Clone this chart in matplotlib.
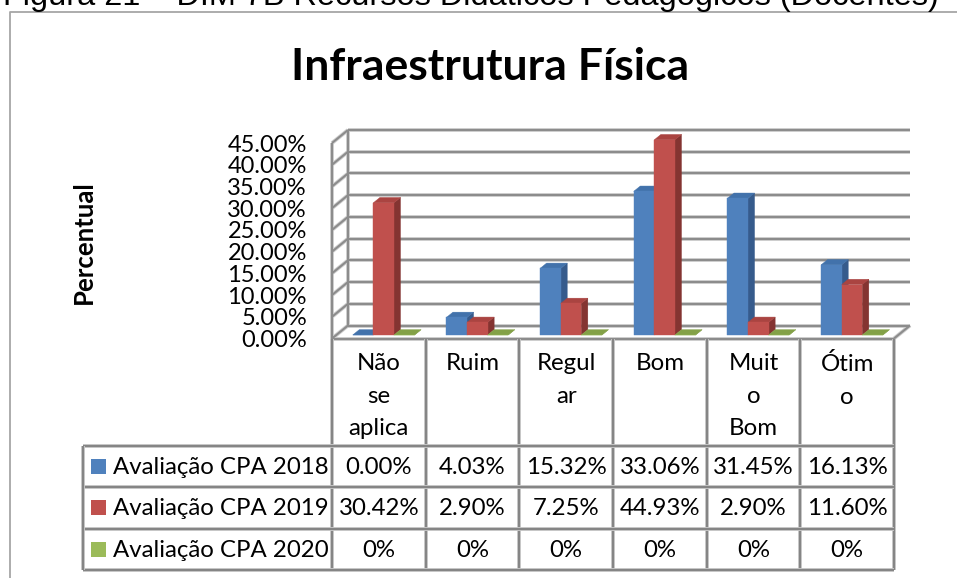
import matplotlib
matplotlib.use('Agg')
import matplotlib.pyplot as plt
from matplotlib.patches import Polygon, Rectangle
from matplotlib.lines import Line2D
import matplotlib.ticker as mticker

# Dados do gráfico
categorias = ['Não\nse\naplica', 'Ruim', 'Regul\nar', 'Bom', 'Muit\no\nBom', 'Ótim\no']
series = ['Avaliação CPA 2018', 'Avaliação CPA 2019', 'Avaliação CPA 2020']
cpa_2018 = [0.00, 4.03, 15.32, 33.06, 31.45, 16.13]
cpa_2019 = [30.42, 2.90, 7.25, 44.93, 2.90, 11.60]
cpa_2020 = [0, 0, 0, 0, 0, 0]
ticks_y = [0, 5, 10, 15, 20, 25, 30, 35, 40, 45]

valores = [cpa_2018, cpa_2019, cpa_2020]
rotulos = [[f'{v:.2f}%' for v in cpa_2018],
           [f'{v:.2f}%' for v in cpa_2019],
           [f'{v:.0f}%' for v in cpa_2020]]

# cores (frente, topo, lateral)
cores = [('#4f81bd', '#4272ab', '#365b8c'),
         ('#c0504d', '#aa4441', '#843431'),
         ('#9bbb59', '#83a147', '#6a8736')]

W, H = 957, 578
plt.rcParams['font.family'] = ['Lato', 'DejaVu Sans']
fig = plt.figure(figsize=(W / 100, H / 100), dpi=100)

# moldura do gráfico
fig.add_artist(Line2D([10 / W, 10 / W, 1], [0, 1 - 12 / H, 1 - 12 / H],
                      color='#a6a6a6', lw=1.3, transform=fig.transFigure))

# legenda da figura (cortada no topo, como no original)
fig.text(3 / W, 1 - 5 / H, 'Figura 21 – DIM 7B Recursos Didáticos Pedagógicos (Docentes)',
         family='Liberation Sans', fontsize=23.4, va='baseline', ha='left')

fig.text(490 / W, 1 - 80 / H, 'Infraestrutura Física', ha='center', va='baseline',
         fontsize=32, weight='bold')
fig.text(84 / W, 1 - 242 / H, 'Percentual', rotation=90, ha='center', va='center',
         fontsize=18.5, weight='bold')

# eixo principal (plano frontal)
x0px, x1px, y0px, y1px = 332, 894, 338.5, 143
ax = fig.add_axes([x0px / W, 1 - y0px / H, (x1px - x0px) / W, (y0px - y1px) / H])
ax.set_xlim(0, 6)
ax.set_ylim(0, 45)
for s in ax.spines.values():
    s.set_visible(False)
ax.set_xticks([])
ax.set_yticks(ticks_y)
ax.yaxis.set_major_formatter(mticker.FuncFormatter(lambda v, p: f'{v:.2f}%'))
ax.tick_params(axis='y', length=0, pad=18, labelsize=17)
ax.patch.set_visible(False)

# profundidade 3D em unidades de dados
DX = 16 / ((x1px - x0px) / 6)
DY = 13 / ((y0px - y1px) / 45)


def linha(xs, ys):
    ax.plot(xs, ys, color='#cfcfcf', lw=2.8, clip_on=False, solid_capstyle='butt', zorder=1)
    ax.plot(xs, ys, color='#8c8c8c', lw=1.5, clip_on=False, solid_capstyle='butt', zorder=1.1)


for v in ticks_y:
    linha([DX, 6 + DX], [v + DY, v + DY])
    linha([0, DX], [v, v + DY])
linha([0, 0], [0, 45])
linha([DX, DX], [DY, 45 + DY])
linha([0, 6], [0, 0])
linha([6, 6 + DX], [0, DY])

# barras 3D
f0, f1 = 0.27, 0.68
larg = 0.22
for i in range(len(categorias)):
    for j, vals in enumerate(valores):
        v = vals[i]
        xa = i + 0.175 + larg * j
        xb = xa + larg
        cf, ct, cl = cores[j]
        lado = [(xb + f0 * DX, f0 * DY), (xb + f1 * DX, f1 * DY),
                (xb + f1 * DX, v + f1 * DY), (xb + f0 * DX, v + f0 * DY)]
        topo = [(xa + f0 * DX, v + f0 * DY), (xb + f0 * DX, v + f0 * DY),
                (xb + f1 * DX, v + f1 * DY), (xa + f1 * DX, v + f1 * DY)]
        frente = [(xa + f0 * DX, f0 * DY), (xb + f0 * DX, f0 * DY),
                  (xb + f0 * DX, v + f0 * DY), (xa + f0 * DX, v + f0 * DY)]
        for pts, c in [(lado, cl), (topo, ct), (frente, cf)]:
            ax.add_patch(Polygon(pts, closed=True, facecolor=c, edgecolor=c, lw=0.3,
                                 clip_on=False, zorder=3))

# tabela de dados
tab_l, tab_b = 83, 570
u = (x1px - x0px) / 6          # px por categoria
row = 41.5
head = (tab_b - y0px - 3 * row) / row
tab = fig.add_axes([tab_l / W, 1 - tab_b / H, (x1px - tab_l) / W, (tab_b - y0px) / H])
xl = (tab_l - x0px) / u
tab.set_xlim(xl, 6)
tab.set_ylim(head + 3, 0)
tab.axis('off')


def tlinha(xs, ys):
    tab.plot(xs, ys, color='#c8c8c8', lw=2.8, clip_on=False, solid_capstyle='butt')
    tab.plot(xs, ys, color='#858585', lw=1.5, clip_on=False, solid_capstyle='butt')


for k in range(7):
    tlinha([k, k], [0, head + 3])
for r in range(4):
    tlinha([xl, 6], [head + r, head + r])
tlinha([xl, xl], [head, head + 3])

fs = 17.3
for i, c in enumerate(categorias):
    tab.text(i + 0.5, 0.36, c, ha='center', va='top', fontsize=fs, linespacing=1.66)

for j, nome in enumerate(series):
    yc = head + j + 0.5
    tab.add_patch(Rectangle((xl + 8 / u, yc - 0.18), 15 / u, 0.36,
                            facecolor=cores[j][0], edgecolor='none'))
    tab.text(xl + 30 / u, yc + 0.03, nome, ha='left', va='center', fontsize=fs)
    for i in range(len(categorias)):
        tab.text(i + 0.5, yc + 0.03, rotulos[j][i], ha='center', va='center', fontsize=fs)

fig.savefig('out.png', dpi=100)
